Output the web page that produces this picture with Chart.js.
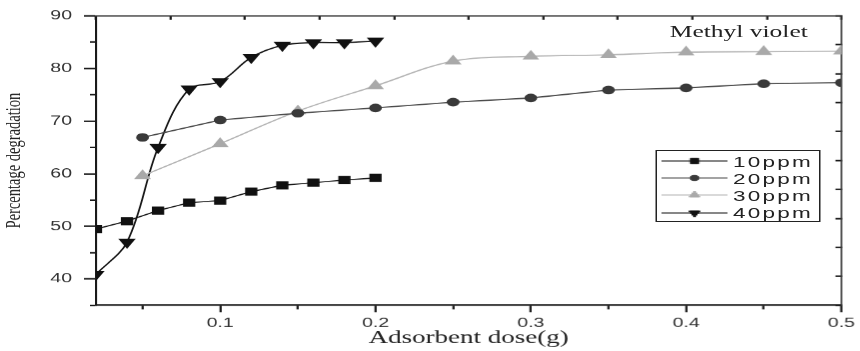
<!DOCTYPE html>
<html>
<head>
<meta charset="utf-8">
<script src="https://cdn.jsdelivr.net/npm/chart.js@4.4.1/dist/chart.umd.min.js"></script>
<style>
  html, body { margin: 0; padding: 0; background: #fff; }
  /* the source figure is stretched sideways, so draw it narrow and widen it */
  #wrap { position: relative; width: 573.33px; height: 351px; transform: scaleX(1.5); transform-origin: 0 0; }
  #note { position: absolute; left: 446.5px; top: 23px; font: 17px/17px "Liberation Serif", "Times New Roman", serif; color: #222; white-space: nowrap; }
  #legend { position: absolute; left: 436.7px; top: 149.5px; width: 110px; height: 72px; box-sizing: border-box; border: 1.3px solid #222; background: #fff; padding-top: 2px; }
  .row { display: flex; align-items: center; height: 17.2px; }
  .row canvas { margin-left: 3px; }
  .row span { margin-left: 4px; font: 15px "Liberation Sans", Arial, sans-serif; letter-spacing: 1.5px; color: #222; }
</style>
</head>
<body>
<div id="wrap">
  <canvas id="chart-dose"></canvas>
  <div id="note">Methyl violet</div>
  <div id="legend"></div>
</div>
<script>
// 數據 (dose in g, degradation in %)
const dose10 = [0.02, 0.04, 0.06, 0.08, 0.1, 0.12, 0.14, 0.16, 0.18, 0.2];
const deg10 = [49.5, 51.0, 53.0, 54.5, 54.9, 56.6, 57.8, 58.3, 58.8, 59.2];

const dose20 = [0.05, 0.1, 0.15, 0.2, 0.25, 0.3, 0.35, 0.4, 0.45, 0.5];
const deg20 = [66.9, 70.2, 71.5, 72.5, 73.6, 74.4, 75.9, 76.3, 77.1, 77.3];

const dose30 = [0.05, 0.1, 0.15, 0.2, 0.25, 0.3, 0.35, 0.4, 0.45, 0.5];
const deg30 = [59.6, 65.7, 71.9, 76.7, 81.4, 82.3, 82.6, 83.1, 83.2, 83.3];

const dose40 = [0.02, 0.04, 0.06, 0.08, 0.1, 0.12, 0.14, 0.16, 0.18, 0.2];
const deg40 = [40.9, 47.0, 65.0, 76.1, 77.5, 82.1, 84.4, 84.9, 84.9, 85.2];

const seriesNames = ["10ppm", "20ppm", "30ppm", "40ppm"];

// axis ranges
const xMin = 0.02, xMax = 0.5, xStep = 0.05;
const yMin = 35, yMax = 90, yStep = 5;

const toPoints = (xs, ys) => xs.map((x, i) => ({ x, y: ys[i] }));
const isMajorX = (v) => Math.round(v * 100) % 10 === 0;
const isMajorY = (v) => Math.round(v) % 10 === 0;

const axisColor = "#1a1a1a";
const tickFont = { family: "'Liberation Sans', Arial, sans-serif", size: 13 };
const serif = "'Liberation Serif', 'Times New Roman', serif";

const ctx_dose = document.getElementById("chart-dose");

const chart_dose = new Chart(ctx_dose, {
  type: "line",
  data: {
    datasets: [
      {
        label: seriesNames[0],
        data: toPoints(dose10, deg10),
        borderColor: "#111",
        borderWidth: 1.1,
        pointStyle: "rect",
        pointRadius: 5,
        pointBackgroundColor: "#111",
        pointBorderColor: "#111",
        tension: 0,
      },
      {
        label: seriesNames[1],
        data: toPoints(dose20, deg20),
        borderColor: "#484848",
        borderWidth: 1.2,
        pointStyle: "circle",
        pointRadius: 3.7,
        pointBackgroundColor: "#3a3a3a",
        pointBorderColor: "#3a3a3a",
        tension: 0,
      },
      {
        label: seriesNames[2],
        data: toPoints(dose30, deg30),
        borderColor: "#b4b4b4",
        borderWidth: 1.2,
        pointStyle: "triangle",
        pointRadius: 5.3,
        pointBackgroundColor: "#a9a9a9",
        pointBorderColor: "#a9a9a9",
        tension: 0.35,
      },
      {
        label: seriesNames[3],
        data: toPoints(dose40, deg40),
        borderColor: "#111",
        borderWidth: 1.2,
        pointStyle: "triangle",
        pointRotation: 180,
        pointRadius: 5.5,
        pointBackgroundColor: "#111",
        pointBorderColor: "#111",
        tension: 0.35,
      },
    ],
  },
  options: {
    animation: false,
    events: [],
    responsive: true,
    maintainAspectRatio: false,
    devicePixelRatio: 1.5,
    layout: { padding: { top: 15, right: 8.67, bottom: 0, left: 0 } },
    plugins: {
      legend: { display: false },
      tooltip: { enabled: false },
    },
    scales: {
      x: {
        type: "linear",
        position: "bottom",
        min: xMin,
        max: xMax,
        afterFit: (scale) => { scale.height = 46; },
        grid: {
          drawOnChartArea: false,
          tickLength: 7,
          tickWidth: 1.5,
          tickColor: axisColor,
          // minor ticks are shorter: only draw the part next to the axis
          tickBorderDash: (c) => (c.tick && isMajorX(c.tick.value) ? [] : [3.5, 30]),
        },
        border: { color: axisColor, width: 1.5 },
        ticks: {
          stepSize: xStep,
          includeBounds: false,
          autoSkip: false,
          maxRotation: 0,
          padding: 3,
          color: "#333",
          font: tickFont,
          callback: (v) => (isMajorX(v) ? (Math.round(v * 10) / 10).toFixed(1) : ""),
        },
        title: {
          display: true,
          text: "Adsorbent dose(g)",
          color: "#222",
          font: { family: serif, size: 18 },
          padding: { top: 0, bottom: 2 },
        },
      },
      y: {
        type: "linear",
        position: "left",
        min: yMin,
        max: yMax,
        afterFit: (scale) => { scale.width = 64; },
        grid: {
          drawOnChartArea: false,
          tickLength: 8,
          tickWidth: 1.5,
          tickColor: axisColor,
          tickBorderDash: (c) => (c.tick && isMajorY(c.tick.value) ? [] : [0, 4, 30]),
        },
        border: { color: axisColor, width: 1.4 },
        ticks: {
          stepSize: yStep,
          includeBounds: false,
          autoSkip: false,
          padding: 8,
          color: "#333",
          font: tickFont,
          callback: (v) => (isMajorY(v) && v > yMin ? String(v) : ""),
        },
        title: {
          display: true,
          text: "Percentage degradation",
          color: "#222",
          font: { family: serif, size: 14.5 },
          padding: { top: 1, bottom: 0 },
        },
      },
      // mirror frame on top and right, ticks pointing inward
      x2: {
        type: "linear",
        position: "top",
        min: 0,
        max: 10,
        afterFit: (scale) => { scale.height = 0; },
        grid: { drawOnChartArea: false, tickLength: -4, tickWidth: 1.5, tickColor: axisColor },
        border: { color: "#333", width: 1.1 },
        ticks: { display: false, stepSize: 1 },
      },
      y2: {
        type: "linear",
        position: "right",
        min: 0,
        max: 10,
        afterFit: (scale) => { scale.width = 0; },
        grid: { drawOnChartArea: false, tickLength: -4, tickWidth: 1.5, tickColor: axisColor },
        border: { color: "#333", width: 1.1 },
        ticks: { display: false, stepSize: 1 },
      },
    },
  },
});

// 圖例 (box inside the plot)
const legendEl = document.getElementById("legend");
chart_dose.data.datasets.forEach((ds) => {
  const row = document.createElement("div");
  row.className = "row";

  const sample = document.createElement("canvas");
  sample.width = 44;
  sample.height = 14;
  const g = sample.getContext("2d");
  g.strokeStyle = ds.borderColor;
  g.lineWidth = 1.2;
  g.beginPath();
  g.moveTo(0, 7);
  g.lineTo(44, 7);
  g.stroke();
  g.fillStyle = ds.pointBackgroundColor;
  g.strokeStyle = ds.pointBorderColor;
  g.lineWidth = 1;
  Chart.helpers.drawPoint(
    g,
    { pointStyle: ds.pointStyle, radius: ds.pointRadius * 0.75, rotation: ds.pointRotation || 0, borderWidth: 1 },
    22,
    7
  );

  const text = document.createElement("span");
  text.textContent = ds.label;

  row.append(sample, text);
  legendEl.append(row);
});
</script>
</body>
</html>
